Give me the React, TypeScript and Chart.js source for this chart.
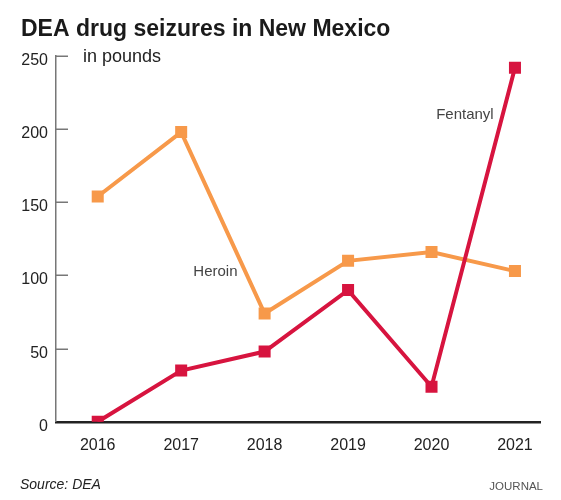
import React, { useEffect, useRef } from "react";
import { Chart, registerables } from "chart.js";

Chart.register(...registerables);

const years = [2016, 2017, 2018, 2019, 2020, 2021];
const heroin = [154, 198, 74, 110, 116, 103];
const fentanyl = [0, 35, 48, 90, 24, 242];
const yTicks = [0, 50, 100, 150, 200, 250];

const FONT = "'Liberation Sans', Arial, Helvetica, sans-serif";
const HEROIN_COLOR = "#F7994A";
const FENTANYL_COLOR = "#D7143F";

const textPlugin = {
  id: "annotationsText",
  afterDraw(chart: any) {
    const ctx = chart.ctx;
    const xs = chart.scales.x;
    const ys = chart.scales.y;
    const area = chart.chartArea;
    ctx.save();
    // inward y tick marks
    ctx.strokeStyle = "#777";
    ctx.lineWidth = 1.5;
    ys.ticks.forEach((t: any) => {
      if (t.value === 0) return;
      const y = Math.round(ys.getPixelForValue(t.value)) + 0.25;
      ctx.beginPath();
      ctx.moveTo(area.left, y);
      ctx.lineTo(area.left + 12, y);
      ctx.stroke();
    });
    ctx.textBaseline = "alphabetic";
    // title
    ctx.fillStyle = "#1a1a1a";
    ctx.textAlign = "left";
    ctx.font = `bold 23px ${FONT}`;
    ctx.fillText("DEA drug seizures in New Mexico", 21, 36);
    // unit
    ctx.fillStyle = "#222";
    ctx.font = `18px ${FONT}`;
    ctx.fillText("in pounds", area.left + 27, 62);
    // series labels
    ctx.fillStyle = "#444";
    ctx.font = `15px ${FONT}`;
    ctx.textAlign = "center";
    ctx.fillText("Heroin", xs.getPixelForValue(2017.41), ys.getPixelForValue(99.5));
    ctx.fillText("Fentanyl", xs.getPixelForValue(2020.4), ys.getPixelForValue(206.9));
    // footer
    ctx.textAlign = "left";
    ctx.fillStyle = "#222";
    ctx.font = `italic 14px ${FONT}`;
    ctx.fillText("Source: DEA", 20, 489);
    ctx.textAlign = "right";
    ctx.fillStyle = "#555";
    ctx.font = `11.5px ${FONT}`;
    ctx.fillText("JOURNAL", 543, 489.5);
    ctx.restore();
  },
};

export default function App() {
  const canvasRef = useRef<HTMLCanvasElement | null>(null);

  useEffect(() => {
    if (!canvasRef.current) return;
    const chart = new Chart(canvasRef.current, {
      type: "line",
      data: {
        datasets: [
          {
            label: "Fentanyl",
            data: years.map((y, i) => ({ x: y, y: fentanyl[i] })),
            borderColor: FENTANYL_COLOR,
            backgroundColor: FENTANYL_COLOR,
            borderWidth: 4,
            pointStyle: "rect",
            pointRadius: 8.5,
            pointBorderWidth: 0,
            pointHoverRadius: 8.5,
            tension: 0,
            order: 0,
          },
          {
            label: "Heroin",
            data: years.map((y, i) => ({ x: y, y: heroin[i] })),
            borderColor: HEROIN_COLOR,
            backgroundColor: HEROIN_COLOR,
            borderWidth: 4,
            pointStyle: "rect",
            pointRadius: 8.5,
            pointBorderWidth: 0,
            pointHoverRadius: 8.5,
            tension: 0,
            order: 1,
          },
        ],
      },
      options: {
        animation: false,
        responsive: false,
        maintainAspectRatio: false,
        devicePixelRatio: 1,
        layout: { padding: { left: 0, right: 21, top: 56, bottom: 31 } },
        plugins: {
          legend: { display: false },
          title: { display: false },
          tooltip: { enabled: false },
        },
        scales: {
          x: {
            type: "linear",
            min: 2015.5,
            max: 2021.3,
            afterBuildTicks: (scale: any) => {
              scale.ticks = years.map((v) => ({ value: v }));
            },
            grid: { display: false, drawTicks: false },
            border: { display: true, color: "#222", width: 2.5 },
            ticks: {
              padding: 14,
              color: "#222",
              font: { family: FONT, size: 16 },
              callback: (v: any) => String(v),
              maxRotation: 0,
              autoSkip: false,
            },
          },
          y: {
            min: 0,
            max: 250,
            afterBuildTicks: (scale: any) => {
              scale.ticks = yTicks.map((v) => ({ value: v }));
            },
            afterFit: (scale: any) => {
              scale.width = 56;
            },
            grid: { display: false, drawTicks: false },
            border: { display: true, color: "#777", width: 1.5 },
            ticks: {
              padding: 8,
              labelOffset: 4.5,
              color: "#222",
              font: { family: FONT, size: 16 },
              callback: (v: any) => String(v),
            },
          },
        },
      },
      plugins: [textPlugin],
    } as any);
    return () => chart.destroy();
  }, []);

  return (
    <div style={{ position: "fixed", left: 0, top: 0, width: 561, height: 500, background: "#fff" }}>
      <canvas ref={canvasRef} width={561} height={500} style={{ width: 561, height: 500 }} />
    </div>
  );
}
